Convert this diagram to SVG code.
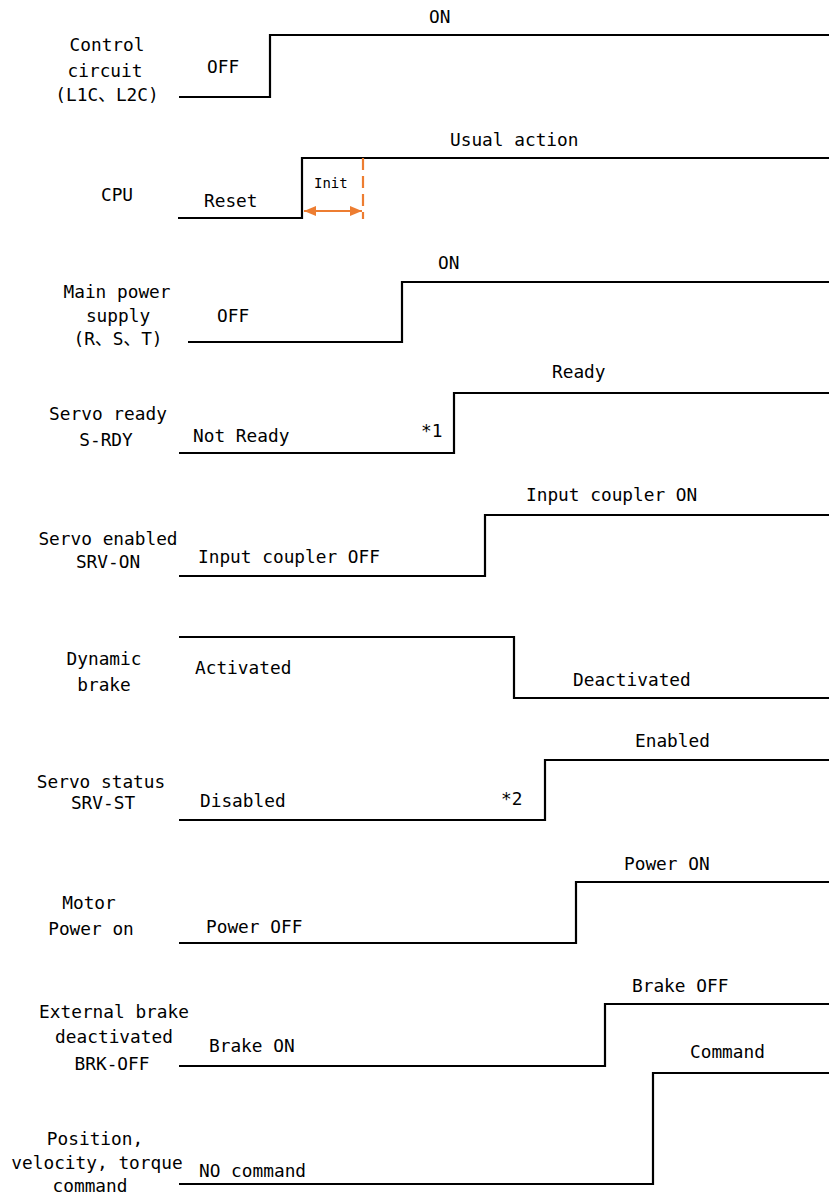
<svg xmlns="http://www.w3.org/2000/svg" width="829" height="1195" viewBox="0 0 829 1195">
<defs>
<style>
text{font-family:"DejaVu Sans Mono","Liberation Mono","Noto Sans CJK SC",monospace;font-size:17.8px;fill:#000}
.lbl{text-anchor:middle}
.wave{fill:none;stroke:#000;stroke-width:2.2;stroke-linejoin:miter}
.init{font-size:14px}
.orange{stroke:#ED7D31;stroke-width:2.2;fill:none}
</style>
<marker id="ah" viewBox="0 0 12 10" refX="12" refY="5" markerWidth="12" markerHeight="10" markerUnits="userSpaceOnUse" orient="auto-start-reverse">
<path d="M0,0 L12,5 L0,10 Z" fill="#ED7D31"/>
</marker>
</defs>
<rect width="829" height="1195" fill="#fff"/>

<g id="connectors">
<polyline class="wave" points="179,97 270,97 270,35 829,35"/>
<polyline class="wave" points="178,218 302,218 302,158 829,158"/>
<polyline class="wave" points="188,342 402,342 402,282 829,282"/>
<polyline class="wave" points="179,453 454,453 454,393 829,393"/>
<polyline class="wave" points="179,576 485,576 485,515 829,515"/>
<polyline class="wave" points="179,637 514,637 514,698 829,698"/>
<polyline class="wave" points="179,820 545,820 545,760 829,760"/>
<polyline class="wave" points="179,943 576,943 576,882 829,882"/>
<polyline class="wave" points="179,1066 605,1066 605,1004 829,1004"/>
<polyline class="wave" points="179,1184 653,1184 653,1073 829,1073"/>
<line class="orange" x1="363" y1="158" x2="363" y2="219" stroke-dasharray="12,6"/>
<line class="orange" x1="304" y1="211" x2="362" y2="211" marker-start="url(#ah)" marker-end="url(#ah)"/>
</g>

<g id="control-circuit">
<text class="lbl" x="107" y="51">Control</text>
<text class="lbl" x="105" y="77">circuit</text>
<text class="lbl" x="107" y="101">(L1C、L2C)</text>
<text x="207" y="73">OFF</text>
<text x="429" y="23">ON</text>
</g>

<g id="cpu">
<text class="lbl" x="117" y="201">CPU</text>
<text x="204" y="207">Reset</text>
<text class="init" x="314" y="188">Init</text>
<text x="450" y="146">Usual action</text>
</g>

<g id="main-power">
<text class="lbl" x="117" y="298">Main power</text>
<text class="lbl" x="118" y="322">supply</text>
<text class="lbl" x="118" y="345">(R、S、T)</text>
<text x="217" y="322">OFF</text>
<text x="438" y="269">ON</text>
</g>

<g id="servo-ready">
<text class="lbl" x="108" y="420">Servo ready</text>
<text class="lbl" x="106" y="446">S-RDY</text>
<text x="193" y="442">Not Ready</text>
<text x="421" y="437">*1</text>
<text x="552" y="378">Ready</text>
</g>

<g id="servo-enabled">
<text class="lbl" x="108" y="545">Servo enabled</text>
<text class="lbl" x="108" y="568">SRV-ON</text>
<text x="198" y="563">Input coupler OFF</text>
<text x="526" y="501">Input coupler ON</text>
</g>

<g id="dynamic-brake">
<text class="lbl" x="104" y="665">Dynamic</text>
<text class="lbl" x="104" y="691">brake</text>
<text x="195" y="674">Activated</text>
<text x="573" y="686">Deactivated</text>
</g>

<g id="servo-status">
<text class="lbl" x="101" y="788">Servo status</text>
<text class="lbl" x="103" y="809">SRV-ST</text>
<text x="200" y="807">Disabled</text>
<text x="501" y="805">*2</text>
<text x="635" y="747">Enabled</text>
</g>

<g id="motor-power">
<text class="lbl" x="89" y="909">Motor</text>
<text class="lbl" x="91" y="935">Power on</text>
<text x="206" y="933">Power OFF</text>
<text x="624" y="870">Power ON</text>
</g>

<g id="external-brake">
<text class="lbl" x="114" y="1018">External brake</text>
<text class="lbl" x="114" y="1043">deactivated</text>
<text class="lbl" x="112" y="1070">BRK-OFF</text>
<text x="209" y="1052">Brake ON</text>
<text x="632" y="992">Brake OFF</text>
</g>

<g id="command">
<text class="lbl" x="95" y="1145">Position,</text>
<text class="lbl" x="97" y="1169">velocity, torque</text>
<text class="lbl" x="90" y="1192">command</text>
<text x="199" y="1177">NO command</text>
<text x="690" y="1058">Command</text>
</g>
</svg>
